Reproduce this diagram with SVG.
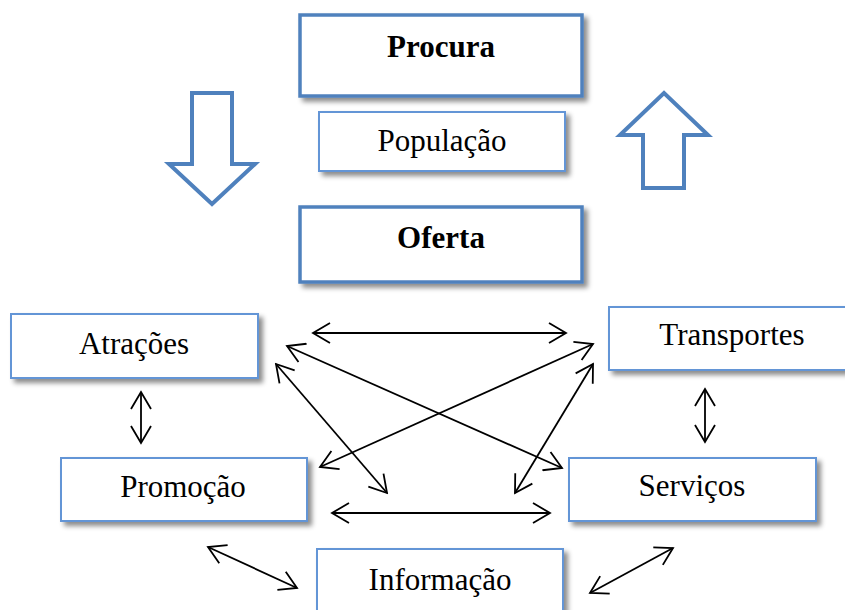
<svg xmlns="http://www.w3.org/2000/svg" width="845" height="610" viewBox="0 0 845 610">
<defs>
<filter id="sh" x="-10%" y="-20%" width="130%" height="150%">
<feDropShadow dx="4" dy="4" stdDeviation="2.5" flood-color="#000" flood-opacity="0.45"/>
</filter>
<marker id="ah" viewBox="0 0 20 22" refX="18" refY="11" markerWidth="20" markerHeight="22" markerUnits="userSpaceOnUse" orient="auto-start-reverse">
<path d="M1,1 L18,11 L1,21" fill="none" stroke="#000" stroke-width="1.8"/>
</marker>
<style>
.thick{fill:#fff;stroke:#4f81bd;stroke-width:3.5;filter:url(#sh)}
.thin{fill:#fff;stroke:#6495d6;stroke-width:2;filter:url(#sh)}
.b{font-family:"Liberation Serif","Times New Roman",serif;font-size:31px;font-weight:bold;text-anchor:middle;fill:#000}
.t{font-family:"Liberation Serif","Times New Roman",serif;font-size:31px;text-anchor:middle;fill:#000}
.big{fill:#fff;stroke:#4f81bd;stroke-width:4;stroke-linejoin:miter}
.c line{stroke:#000;stroke-width:1.8;marker-start:url(#ah);marker-end:url(#ah)}
</style>
</defs>
<rect width="845" height="610" fill="#fff"/>
<g id="procura"><rect class="thick" x="300" y="15" width="282" height="81"/><text class="b" x="441" y="57">Procura</text></g>
<g id="populacao"><rect class="thin" x="319" y="112" width="246" height="59"/><text class="t" x="442" y="151">População</text></g>
<g id="oferta"><rect class="thick" x="300" y="207" width="282" height="75"/><text class="b" x="441" y="248">Oferta</text></g>
<g id="seta-baixo"><path class="big" d="M192,93 L232,93 L232,164 L255,164 L212,204 L169,164 L192,164 Z"/></g>
<g id="seta-cima"><path class="big" d="M643,188 L684,188 L684,135 L708,135 L664,93 L620,135 L643,135 Z"/></g>
<g id="atracoes"><rect class="thin" x="11" y="314" width="247" height="64"/><text class="t" x="134" y="354">Atrações</text></g>
<g id="transportes"><rect class="thin" x="609" y="307" width="250" height="63"/><text class="t" x="732" y="345">Transportes</text></g>
<g id="promocao"><rect class="thin" x="61" y="458" width="246" height="63"/><text class="t" x="183" y="497">Promoção</text></g>
<g id="servicos"><rect class="thin" x="569" y="458" width="247" height="63"/><text class="t" x="692" y="496">Serviços</text></g>
<g id="informacao"><rect class="thin" x="317" y="549" width="246" height="70"/><text class="t" x="440" y="590">Informação</text></g>
<g id="conectores" class="c">
<line x1="313" y1="333" x2="566" y2="333"/>
<line x1="287" y1="346" x2="562" y2="468"/>
<line x1="276" y1="364" x2="387" y2="493"/>
<line x1="320" y1="467" x2="593" y2="344"/>
<line x1="515" y1="493" x2="593" y2="364"/>
<line x1="332" y1="513" x2="550" y2="513"/>
<line x1="141" y1="392" x2="141" y2="443"/>
<line x1="705" y1="389" x2="705" y2="442"/>
<line x1="208" y1="547" x2="297" y2="588"/>
<line x1="673" y1="548" x2="590" y2="593"/>
</g>
</svg>
